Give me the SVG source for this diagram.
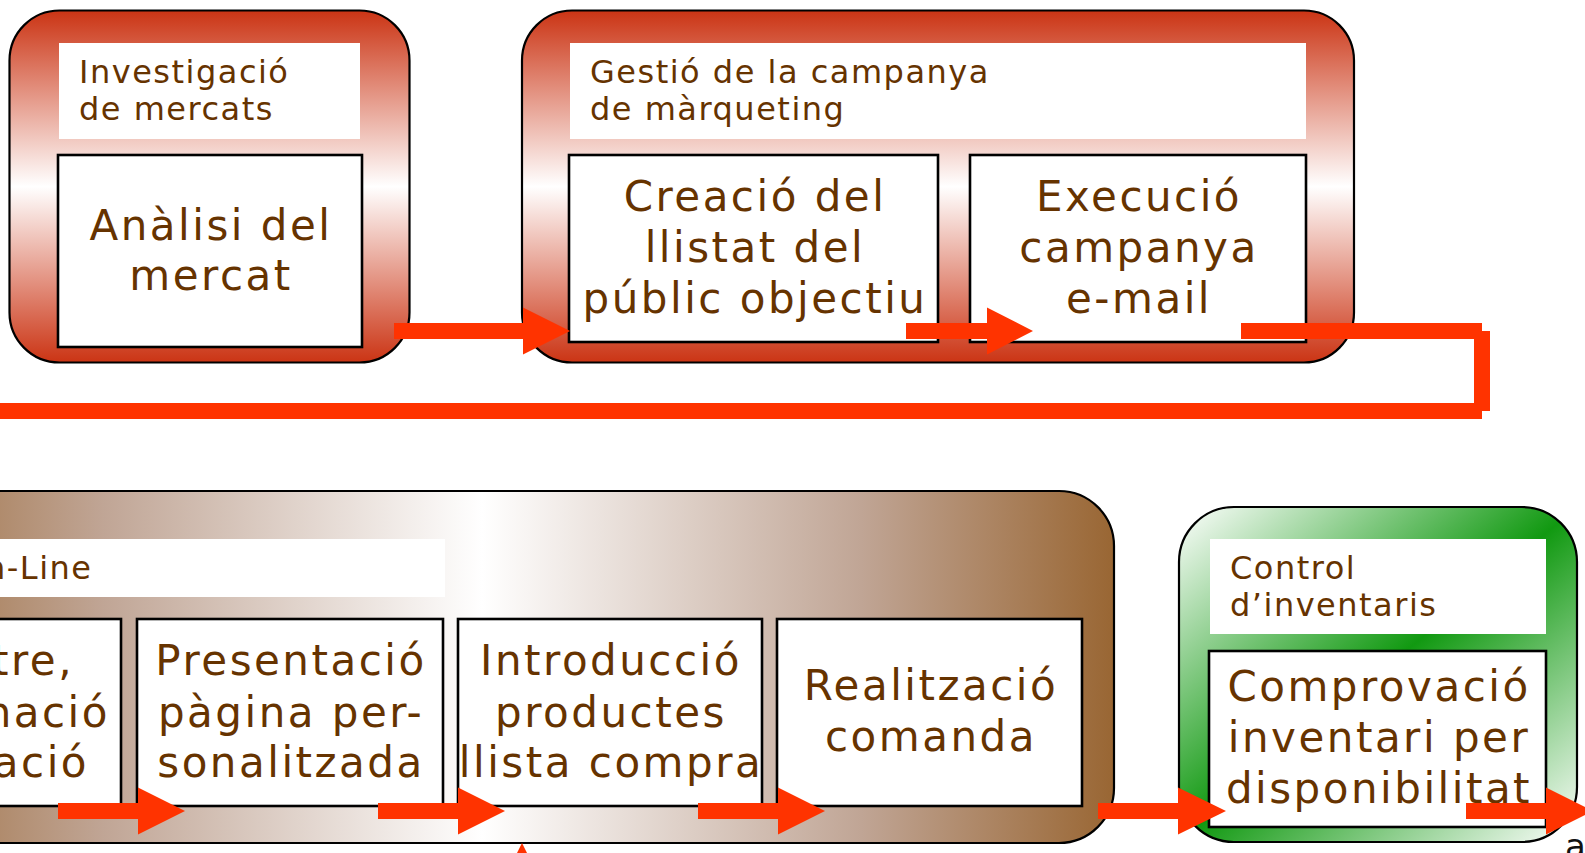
<svg xmlns="http://www.w3.org/2000/svg" width="1585" height="853" viewBox="0 0 1585 853">
<defs>
<linearGradient id="gRed" x1="0" y1="0" x2="0" y2="1">
<stop offset="0" stop-color="#cb3414"/>
<stop offset="0.5" stop-color="#ffffff"/>
<stop offset="1" stop-color="#cb3414"/>
</linearGradient>
<linearGradient id="gBrown" gradientUnits="userSpaceOnUse" x1="-150" y1="0" x2="1114" y2="0">
<stop offset="0" stop-color="#996633"/>
<stop offset="0.2" stop-color="#c0a595"/>
<stop offset="0.5" stop-color="#ffffff"/>
<stop offset="0.8" stop-color="#c0a595"/>
<stop offset="1" stop-color="#996633"/>
</linearGradient>
<linearGradient id="gGreen" x1="0" y1="0" x2="1" y2="1">
<stop offset="0" stop-color="#ffffff"/>
<stop offset="0.5" stop-color="#119911"/>
<stop offset="1" stop-color="#ffffff"/>
</linearGradient>
</defs>
<style>
.outer{stroke:#000;stroke-width:2.2}
.title{fill:#fff}
.box{fill:#fff;stroke:#000;stroke-width:2.6}
.tt{font-family:"DejaVu Sans",sans-serif;font-size:32px;letter-spacing:1.5px;fill:#663300}
.mt{font-family:"DejaVu Sans",sans-serif;font-size:42px;letter-spacing:2.5px;fill:#663300;text-anchor:middle}
.me{font-family:"DejaVu Sans",sans-serif;font-size:42px;letter-spacing:2.5px;fill:#663300;text-anchor:end}
.arr{fill:#ff3300}
</style>
<rect width="1585" height="853" fill="#fff"/>

<g id="investigacio">
<rect class="outer" x="9.5" y="10.5" width="400" height="352" rx="50" fill="url(#gRed)"/>
<rect class="title" x="59" y="43" width="301" height="96"/>
<text class="tt" x="79" y="83">Investigació</text>
<text class="tt" x="79" y="120">de mercats</text>
<rect class="box" x="58" y="155" width="304" height="192"/>
<text class="mt" x="211" y="240">Anàlisi del</text>
<text class="mt" x="211" y="290">mercat</text>
</g>

<g id="gestio">
<rect class="outer" x="522" y="10.5" width="832" height="352" rx="50" fill="url(#gRed)"/>
<rect class="title" x="570" y="43" width="736" height="96"/>
<text class="tt" x="590" y="83">Gestió de la campanya</text>
<text class="tt" x="590" y="120">de màrqueting</text>
<rect class="box" x="569" y="155" width="369" height="187"/>
<text class="mt" x="755" y="211">Creació del</text>
<text class="mt" x="755" y="262">llistat del</text>
<text class="mt" x="755" y="313">públic objectiu</text>
<rect class="box" x="970" y="155" width="336" height="187"/>
<text class="mt" x="1139" y="211">Execució</text>
<text class="mt" x="1139" y="262">campanya</text>
<text class="mt" x="1139" y="313">e-mail</text>
</g>

<g id="compra-online">
<rect class="outer" x="-150" y="491" width="1264" height="352" rx="55" fill="url(#gBrown)"/>
<rect class="title" x="-150" y="539" width="595" height="58"/>
<text class="tt" x="-15" y="579">n-Line</text>
<rect class="box" x="-200" y="619" width="321" height="187"/>
<text class="me" x="74" y="675">tre,</text>
<text class="me" x="110" y="727">nació</text>
<text class="me" x="89" y="777">ació</text>
<rect class="box" x="137" y="619" width="306" height="187"/>
<text class="mt" x="291" y="675">Presentació</text>
<text class="mt" x="291" y="727">pàgina per-</text>
<text class="mt" x="291" y="777">sonalitzada</text>
<rect class="box" x="458" y="619" width="304" height="187"/>
<text class="mt" x="611" y="675">Introducció</text>
<text class="mt" x="611" y="727">productes</text>
<text class="mt" x="611" y="777">llista compra</text>
<rect class="box" x="777" y="619" width="305" height="187"/>
<text class="mt" x="931" y="700">Realització</text>
<text class="mt" x="931" y="751">comanda</text>
</g>

<g id="control-inventaris">
<rect class="outer" x="1179" y="507" width="398" height="335" rx="55" fill="url(#gGreen)"/>
<rect class="title" x="1210" y="539" width="336" height="95"/>
<text class="tt" x="1230" y="579">Control</text>
<text class="tt" x="1230" y="616">d’inventaris</text>
<rect class="box" x="1209" y="651" width="337" height="176"/>
<text class="mt" x="1379" y="701">Comprovació</text>
<text class="mt" x="1379" y="752">inventari per</text>
<text class="mt" x="1379" y="803">disponibilitat</text>
</g>

<text x="1565" y="858" font-family="DejaVu Sans, sans-serif" font-size="34" fill="#111">a</text>

<g id="connectors">
<polygon class="arr" points="394,323 523,323 523,307.5 570,331 523,354.5 523,339 394,339"/>
<polygon class="arr" points="906,323 987,323 987,307.5 1033,331 987,354.5 987,339 906,339"/>
<rect class="arr" x="1241" y="323" width="241" height="16"/>
<rect class="arr" x="1474" y="331" width="16" height="80"/>
<rect class="arr" x="0" y="403" width="1482" height="16"/>
<polygon class="arr" points="58,803 138,803 138,787.5 185,811 138,834.5 138,819 58,819"/>
<polygon class="arr" points="378,803 458,803 458,787.5 505,811 458,834.5 458,819 378,819"/>
<polygon class="arr" points="698,803 778,803 778,787.5 825,811 778,834.5 778,819 698,819"/>
<polygon class="arr" points="1098,803 1178,803 1178,787.5 1226,811 1178,834.5 1178,819 1098,819"/>
<polygon class="arr" points="1466,803 1546,803 1546,787.5 1593,811 1546,834.5 1546,819 1466,819"/>
<polygon class="arr" points="522,843 545.5,890 498.5,890"/>
</g>
</svg>
